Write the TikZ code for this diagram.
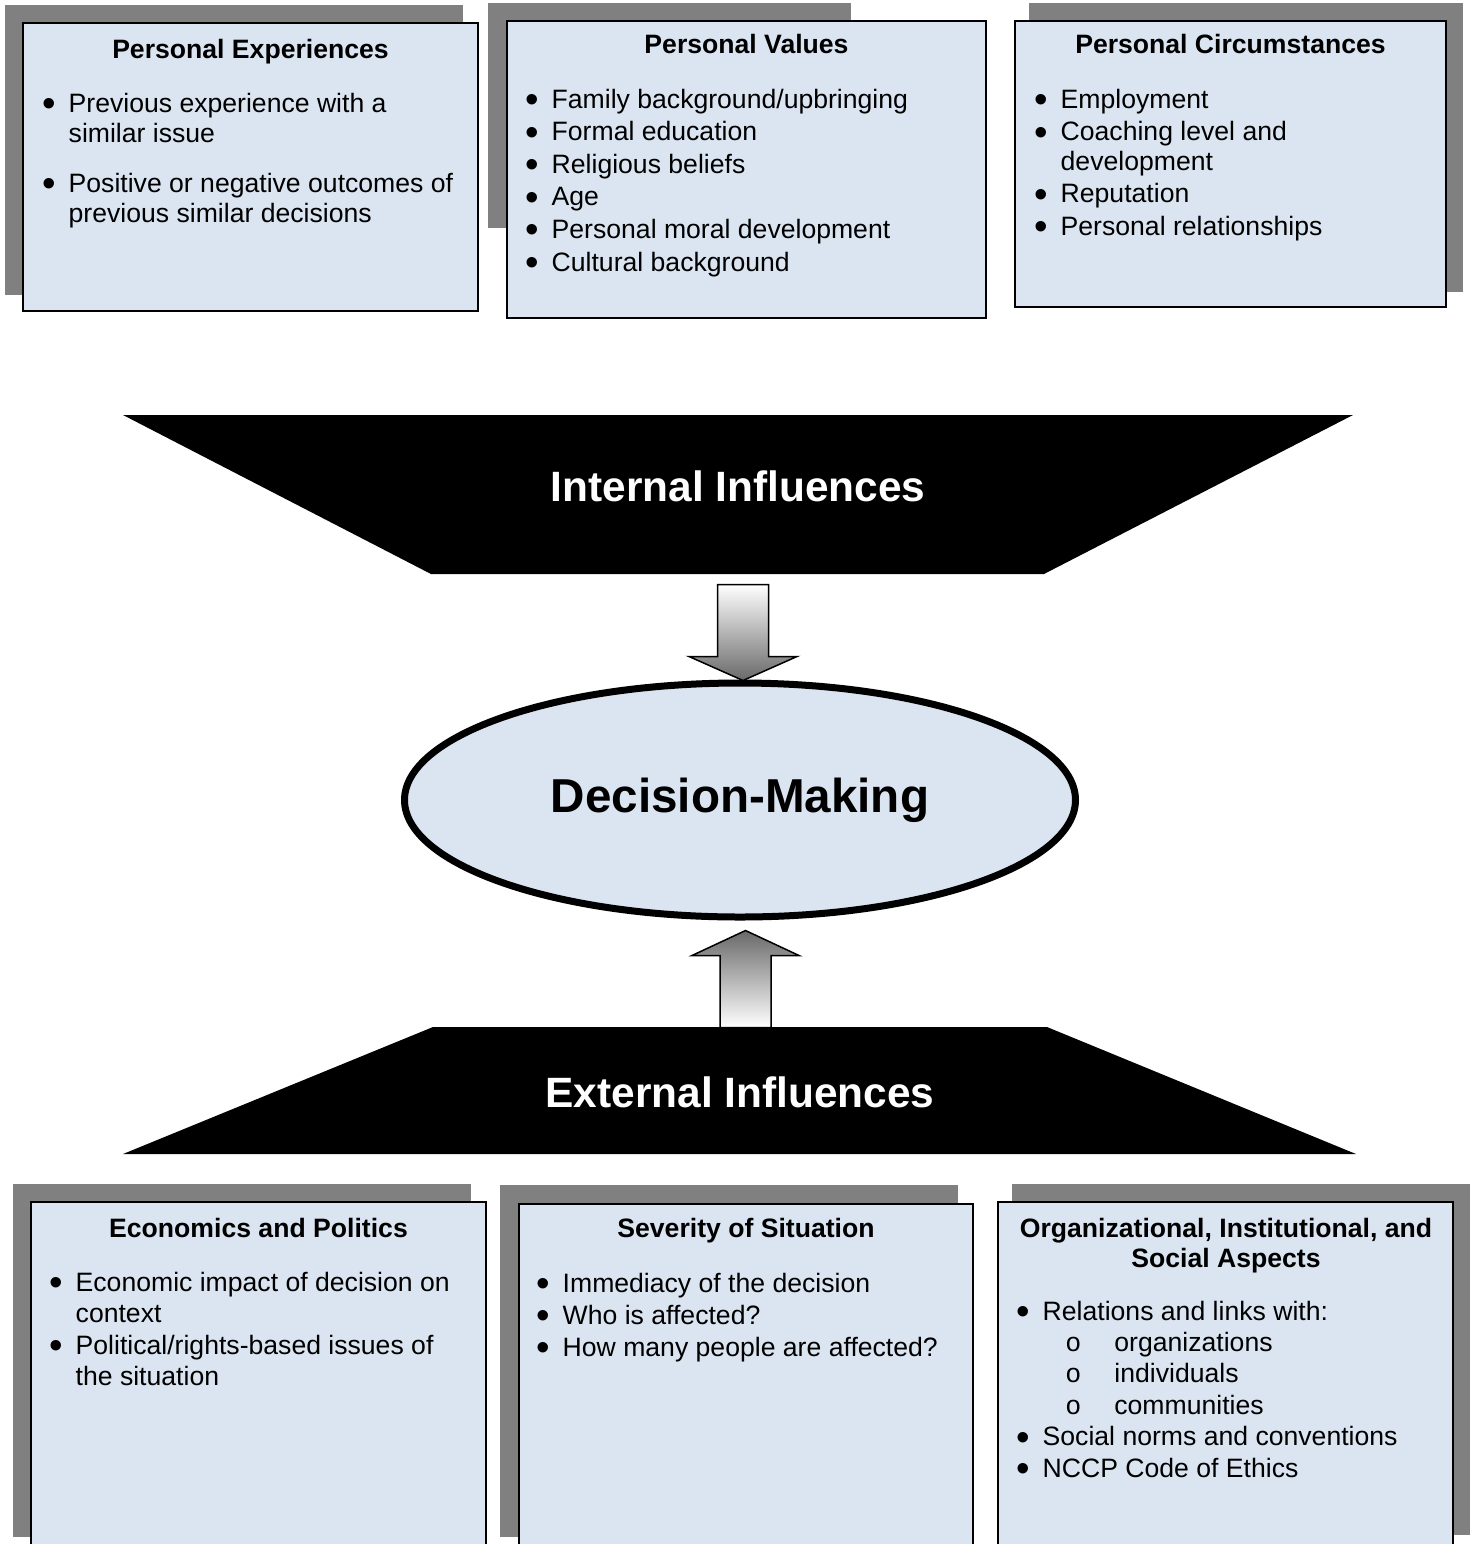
\documentclass[tikz,border=0pt]{standalone}
\usepackage{fontspec}
\setmainfont{Liberation Sans}
\setmonofont{Liberation Mono}
\usetikzlibrary{shapes.geometric,calc}
\definecolor{boxblue}{RGB}{219,229,241}
\definecolor{shadowgray}{RGB}{128,128,128}
\definecolor{arrowgray}{RGB}{105,105,105}
\newcommand{\bl}{\makebox[12pt][l]{\hspace{-0.9pt}\raisebox{-2.2pt}{\scalebox{1.45}{\textbullet}}}}
\newcommand{\sub}[1]{\multicolumn{2}{@{}l@{}}{\hspace{23.35pt}\makebox[24.5pt][l]{\texttt{o}}#1}}
\newcommand{\panel}[5]{%
  \node[box, minimum width={(#4-#2-2)*0.5pt}, minimum height={(#5-#3-2)*0.5pt}]
    (#1) at ({(#2+#4)/2},{(#3+#5)/2}) {};}
\begin{document}
\begin{tikzpicture}[x=0.5pt,y=-0.5pt,
  shadowbox/.style={fill=shadowgray},
  box/.style={draw=black, line width=1pt, fill=boxblue, inner sep=0pt, outer sep=0pt},
  ttl/.style={inner sep=0pt, anchor=base, font=\fontsize{13.3}{15}\selectfont\bfseries},
  lst/.style={inner sep=0pt, anchor=base west},
  big/.style={inner sep=0pt, anchor=base, text=white, font=\fontsize{21.2}{25}\selectfont\bfseries},
  trap/.style={fill=black},
  blockarrow/.style={draw=black, line width=0.75pt, line join=miter},
]
\useasboundingbox (0,0) rectangle (1474,1544);
\clip (0,0) rectangle (1474,1544);

% ---------- top panels ----------
\fill[shadowbox] (5,5) rectangle (463,295);
\panel{pe}{22}{22}{479}{312}
\fill[shadowbox] (488,3) rectangle (851,228);
\panel{pv}{506}{20}{987}{319}
\fill[shadowbox] (1029,3) rectangle (1463,292);
\panel{pc}{1014}{20}{1447}{308}

\node[ttl] (pe-t) at (250.5,58) {Personal Experiences};
\node[ttl] (pv-t) at (746.5,53) {Personal Values};
\node[ttl] (pc-t) at (1230.5,53) {Personal Circumstances};

\node[lst] (pe-l) at (44.3,112) {\fontsize{13.3}{15}\selectfont
  \begin{tabular}[t]{@{}l@{}l@{}}
  \bl & Previous experience with a\\
      & similar issue\\[10pt]
  \bl & Positive or negative outcomes of\\
      & previous similar decisions
  \end{tabular}};

\node[lst] (pv-l) at (527.3,108) {\fontsize{13.3}{16.3}\selectfont
  \begin{tabular}[t]{@{}l@{}l@{}}
  \bl & Family background/upbringing\\
  \bl & Formal education\\
  \bl & Religious beliefs\\
  \bl & Age\\
  \bl & Personal moral development\\
  \bl & Cultural background
  \end{tabular}};

\node[lst] (pc-l) at (1036.3,108) {\fontsize{13.3}{15}\selectfont
  \begin{tabular}[t]{@{}l@{}l@{}}
  \bl & Employment\\[1.3pt]
  \bl & Coaching level and\\
      & development\\[1.1pt]
  \bl & Reputation\\[1.1pt]
  \bl & Personal relationships
  \end{tabular}};

% ---------- funnels ----------
\fill[trap] (123,415) -- (1353,415) -- (1044,574) -- (431,574) -- cycle;
\node[big] (intl) at (738,501) {Internal Influences};

\fill[trap] (433,1027) -- (1047,1027) -- (1356,1154) -- (123,1154) -- cycle;
\node[big] (extl) at (740,1107) {External Influences};

% ---------- decision making ----------
\node[ellipse, draw=black, line width=3.5pt, fill=boxblue, inner sep=0pt,
      minimum width=335.5pt, minimum height=117pt,
      font=\fontsize{23.8}{28}\selectfont\bfseries] (dm) at (740,800) {Decision-Making};

% down arrow: Internal Influences -> Decision-Making
\path[blockarrow, top color=white, bottom color=arrowgray]
  ($(dm.north)+(-22.5,-95)$) -- ($(dm.north)+(28.5,-95)$) -- ($(dm.north)+(28.5,-23)$)
  -- ($(dm.north)+(57,-23)$) -- ($(dm.north)+(3,1)$) -- ($(dm.north)+(-51,-23)$)
  -- ($(dm.north)+(-22.5,-23)$) -- cycle;

% up arrow: External Influences -> Decision-Making
\path[blockarrow, top color=arrowgray, bottom color=white]
  ($(dm.south)+(5.5,10)$) -- ($(dm.south)+(59,35)$) -- ($(dm.south)+(31,35)$)
  -- ($(dm.south)+(31,107)$) -- ($(dm.south)+(-20,107)$) -- ($(dm.south)+(-20,35)$)
  -- ($(dm.south)+(-48,35)$) -- cycle;

% ---------- bottom panels ----------
\fill[shadowbox] (13,1184) rectangle (471,1537);
\panel{ep}{30}{1201}{487}{1570}
\fill[shadowbox] (500,1185) rectangle (958,1537);
\panel{ss}{518}{1203}{974}{1570}
\fill[shadowbox] (1012,1184) rectangle (1470,1535);
\panel{oi}{997}{1201}{1454}{1570}

\node[ttl] (ep-t) at (258.5,1237) {Economics and Politics};
\node[ttl] (ss-t) at (746,1237) {Severity of Situation};
\node[ttl] (oi-t) at (1226,1237) {\begin{tabular}[t]{@{}c@{}}
  Organizational, Institutional, and\\ Social Aspects\end{tabular}};

\node[lst] (ep-l) at (51.3,1291.5) {\fontsize{13.3}{15.5}\selectfont
  \begin{tabular}[t]{@{}l@{}l@{}}
  \bl & Economic impact of decision on\\
      & context\\[0.5pt]
  \bl & Political/rights-based issues of\\
      & the situation
  \end{tabular}};

\node[lst] (ss-l) at (538.3,1292) {\fontsize{13.3}{16}\selectfont
  \begin{tabular}[t]{@{}l@{}l@{}}
  \bl & Immediacy of the decision\\
  \bl & Who is affected?\\
  \bl & How many people are affected?
  \end{tabular}};

\node[lst] (oi-l) at (1018.3,1320) {\fontsize{13.3}{15.7}\selectfont
  \begin{tabular}[t]{@{}l@{}l@{}}
  \bl & Relations and links with:\\
  \sub{organizations}\\
  \sub{individuals}\\
  \sub{communities}\\
  \bl & Social norms and conventions\\
  \bl & NCCP Code of Ethics
  \end{tabular}};
\end{tikzpicture}
\end{document}
